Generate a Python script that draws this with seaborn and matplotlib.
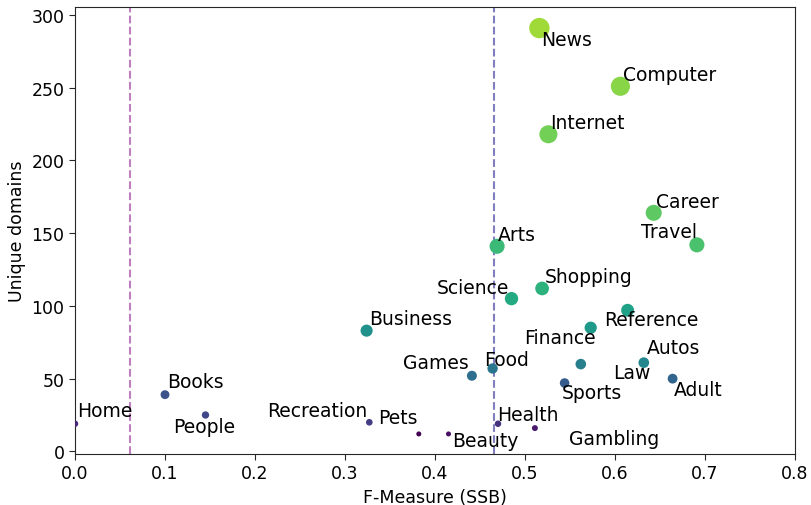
import matplotlib
matplotlib.use("Agg")
import matplotlib.pyplot as plt
import matplotlib.colors as mcolors
import seaborn as sns
import pandas as pd

categories = ["News", "Computer", "Internet", "Career", "Travel", "Arts", "Shopping",
              "Science", "Reference", "Finance", "Business", "Games", "Food", "Law",
              "Autos", "Adult", "Sports", "Books", "People", "Home", "Recreation",
              "Pets", "Beauty", "Health", "Gambling"]
f_measure = [0.516, 0.606, 0.526, 0.643, 0.691, 0.469, 0.519,
             0.485, 0.614, 0.573, 0.324, 0.441, 0.464, 0.562,
             0.632, 0.664, 0.544, 0.100, 0.145, 0.000, 0.327,
             0.382, 0.415, 0.470, 0.511]
unique_domains = [291, 251, 218, 164, 142, 141, 112,
                  105, 97, 85, 83, 52, 57, 60,
                  61, 50, 47, 39, 25, 19, 20,
                  12, 12, 19, 16]
# label offsets in pixels (dx, dy) and alignment
label_dx = [2, 3, 2, 2, 0, 1, 3, -2, -23, 5, 3, -3, -8, 32, 3, 1, -3, 2, -32, 2, -2, -1, 4, -1, 34]
label_dy = [-11, 12, 12, 11, 13, 12, 12, 11, -9, -10, 12, 13, 9, -8, 15, -11, -9, 13, -11, 13, 12, 16, -7, 9, -10]
label_ha = ["left", "left", "left", "left", "right", "left", "left", "right", "left", "right",
            "left", "right", "left", "left", "left", "left", "left", "left", "left", "left",
            "right", "right", "left", "left", "left"]
vlines = [0.0612, 0.4656]
vline_colors = ["purple", "navy"]

df = pd.DataFrame({"cat": categories, "x": f_measure, "y": unique_domains})
df["rank"] = df["y"].rank(method="first") - 1

sns.set_style("ticks")
plt.rcParams["font.family"] = ["DejaVu Sans"]

fig = plt.figure(figsize=(8.12, 5.06), dpi=100)
ax = fig.add_axes([75 / 812, 1 - 455 / 506, 720 / 812, 447 / 506])

sns.scatterplot(data=df, x="x", y="y", hue="rank", size="y",
                palette="viridis", hue_norm=(0, 28),
                sizes=(13, 215), size_norm=mcolors.PowerNorm(gamma=0.85, vmin=12, vmax=291),
                linewidth=0, legend=False, ax=ax, zorder=3)

for xv, c in zip(vlines, vline_colors):
    ax.axvline(xv, color=c, alpha=0.5, linestyle="--", linewidth=1.5, zorder=1)

for name, xv, yv, dx, dy, ha in zip(categories, f_measure, unique_domains, label_dx, label_dy, label_ha):
    ax.annotate(name, (xv, yv), xytext=(dx, dy), textcoords="offset pixels",
                ha=ha, va="center", fontsize=13.5, color="black", zorder=4)

ax.set_xlim(0, 0.8)
ax.set_ylim(-1.8, 305.5)
ax.set_yticks([0, 50, 100, 150, 200, 250, 300])
ax.set_xlabel("F-Measure (SSB)", fontsize=12.5, color="black")
ax.set_ylabel("Unique domains", fontsize=12.5, color="black")
ax.tick_params(labelsize=12.5, length=4, labelcolor="black")
for s in ax.spines.values():
    s.set_visible(True)

fig.savefig("out.png", dpi=100)
